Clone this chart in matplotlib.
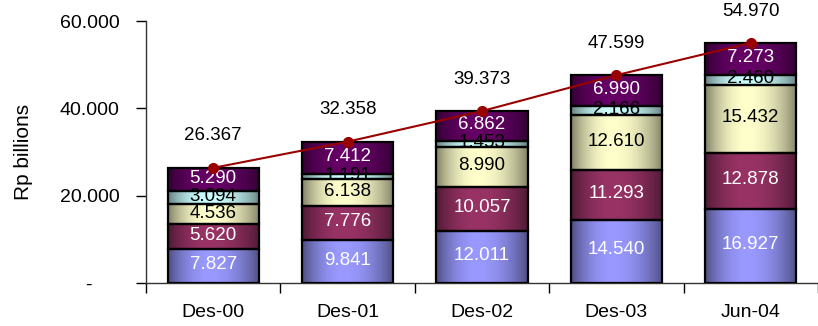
"""Stacked bars of Rp billions by period, with the running total on top."""

import matplotlib
matplotlib.use("Agg")
import matplotlib.pyplot as plt
import numpy as np
from matplotlib.colors import to_rgb
from matplotlib.ticker import FuncFormatter

plt.rcParams["font.family"] = ["Liberation Sans", "DejaVu Sans"]

periods = ["Des-00", "Des-01", "Des-02", "Des-03", "Jun-04"]

seg_blue = [7827, 9841, 12011, 14540, 16927]
seg_maroon = [5620, 7776, 10057, 11293, 12878]
seg_cream = [4536, 6138, 8990, 12610, 15432]
seg_cyan = [3094, 1191, 1453, 2166, 2460]
seg_purple = [5290, 7412, 6862, 6990, 7273]

totals = [26367, 32358, 39373, 47599, 54970]

# (values, centre colour, text colour) for each stacked series, bottom to top
SERIES = [
    (seg_blue, "#9999ff", "white"),
    (seg_maroon, "#993366", "white"),
    (seg_cream, "#ffffcc", "black"),
    (seg_cyan, "#ccffff", "black"),
    (seg_purple, "#660066", "white"),
]
FS = 13.5


def shaded_strip(center):
    """Horizontal shading: dark at both sides, brightest left of middle."""
    c = np.array(to_rgb(center))
    t = np.linspace(0, 1, 64)
    w = np.where(t < 0.45, t / 0.45, (1 - t) / 0.55)
    w = np.sin(w * np.pi / 2) ** 0.8
    shade = 0.5 + 0.5 * w
    return (c[None, :] * shade[:, None])[None, :, :]


fig = plt.figure(figsize=(8.18, 3.26), dpi=100)
ax = fig.add_axes([146 / 818, 43 / 326, 672 / 818, 262 / 326])

x = np.arange(len(periods))
width = 0.68
bottom = np.zeros(len(periods))

for values, color, txt in SERIES:
    vals = np.array(values, dtype=float)
    bars = ax.bar(x, vals, width, bottom=bottom, facecolor="none",
                  edgecolor="black", linewidth=1.6, zorder=3)
    strip = shaded_strip(color)
    for bar in bars:
        bx, by = bar.get_x(), bar.get_y()
        img = ax.imshow(strip, extent=(bx, bx + bar.get_width(), by, by + bar.get_height()),
                        aspect="auto", interpolation="bilinear", zorder=2)
        img.set_clip_path(bar)
    for xi, b, v in zip(x, bottom, vals):
        ax.text(xi, b + v / 2 + 300, f"{v:,.0f}".replace(",", "."),
                ha="center", va="center", fontsize=FS, color=txt, zorder=4)
    bottom += vals

ax.plot(x, totals, color="#990000", linewidth=1.5, marker="o",
        markersize=7, markerfacecolor="#990000", markeredgecolor="#990000", zorder=5)
for xi, tot in zip(x, totals):
    ax.annotate(f"{tot:,.0f}".replace(",", "."), (xi, tot), xytext=(0, 23),
                textcoords="offset points", ha="center", va="center", fontsize=FS)

ax.set_xlim(-0.5, len(periods) - 0.5)
ax.set_ylim(0, 60000)

ax.set_yticks([0, 20000, 40000, 60000])
ax.yaxis.set_major_formatter(FuncFormatter(
    lambda v, _: "-     " if v == 0 else f"{v:,.0f}".replace(",", ".")))
ax.tick_params(axis="y", direction="out", length=7, width=1, pad=12, labelsize=14)

ax.set_xticks(x)
ax.set_xticklabels(periods)
ax.set_xticks(np.arange(-0.5, len(periods)), minor=True)
ax.tick_params(axis="x", which="major", length=0, pad=15, labelsize=14)
ax.tick_params(axis="x", which="minor", direction="out", length=7, width=1)

for side in ("top", "right"):
    ax.spines[side].set_visible(False)
for side in ("left", "bottom"):
    ax.spines[side].set_color("#333333")
    ax.spines[side].set_linewidth(1)

ax.set_ylabel("Rp billions", fontsize=15)
ax.yaxis.set_label_coords(-0.168, 0.5)

fig.savefig("out.png", dpi=100)
